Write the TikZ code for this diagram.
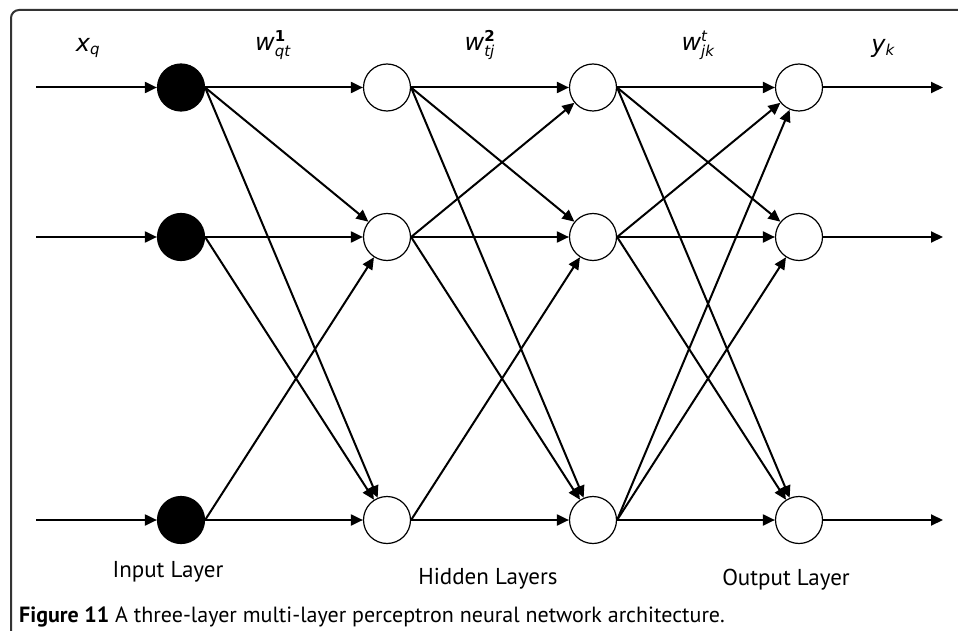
\documentclass[tikz,border=0pt]{standalone}
\usepackage{fontspec}
\usepackage{amsmath}
\setmainfont{PT Sans}
\newfontfamily\lblfamily{DejaVu Sans}
\usetikzlibrary{arrows.meta}
\tikzstyle{input} = [circle, minimum size=47pt, inner sep=0pt, draw=black, line width=1.2pt, fill=black]
\tikzstyle{neuron} = [circle, minimum size=47pt, inner sep=0pt, draw=black, line width=1.2pt, fill=white]
\tikzstyle{arrow} = [line width=2pt, -{Triangle[length=12pt,width=11pt]}]
\tikzstyle{weight} = [font=\fontsize{24}{28}\selectfont\lblfamily\itshape]
\tikzstyle{layer} = [anchor=base, font=\fontsize{23}{27}\selectfont]
\newcommand{\smalltxt}[1]{\mbox{\fontsize{15}{15}\selectfont #1}}

\begin{document}
\begin{tikzpicture}[x=1pt, y=-1pt, node distance=206pt]
\useasboundingbox (0,0) rectangle (958,631);
\draw [line width=2pt, rounded corners=8pt, black!80] (958,10) -- (11,10) -- (11,631);

% input layer
\node (in1) [input] at (181,87.5) {};
\node (in2) [input] at (181,237) {};
\node (in3) [input] at (181,520) {};
% hidden layers
\node (ha1) [neuron, right of=in1] {};
\node (ha2) [neuron, right of=in2] {};
\node (ha3) [neuron, right of=in3] {};
\node (hb1) [neuron, right of=ha1] {};
\node (hb2) [neuron, right of=ha2] {};
\node (hb3) [neuron, right of=ha3] {};
% output layer
\node (out1) [neuron, right of=hb1] {};
\node (out2) [neuron, right of=hb2] {};
\node (out3) [neuron, right of=hb3] {};

\coordinate (x1) at (36,87.5);
\coordinate (x2) at (36,237);
\coordinate (x3) at (36,520);
\coordinate (y1) at (943,87.5);
\coordinate (y2) at (943,237);
\coordinate (y3) at (943,520);

\draw [arrow] (x1) -- (in1);
\draw [arrow] (x2) -- (in2);
\draw [arrow] (x3) -- (in3);

\draw [arrow] (in1) -- (ha1);
\draw [arrow] (in1.east) -- (ha2);
\draw [arrow] (in1.east) -- (ha3);
\draw [arrow] (in2) -- (ha2);
\draw [arrow] (in2.east) -- (ha3);
\draw [arrow] (in3.east) -- (ha2);
\draw [arrow] (in3) -- (ha3);

\draw [arrow] (ha1) -- (hb1);
\draw [arrow] (ha1.east) -- (hb2);
\draw [arrow] (ha1.east) -- (hb3);
\draw [arrow] (ha2.east) -- (hb1);
\draw [arrow] (ha2) -- (hb2);
\draw [arrow] (ha2.east) -- (hb3);
\draw [arrow] (ha3.east) -- (hb2);
\draw [arrow] (ha3) -- (hb3);

\draw [arrow] (hb1) -- (out1);
\draw [arrow] (hb1.east) -- (out2);
\draw [arrow] (hb1.east) -- (out3);
\draw [arrow] (hb2.east) -- (out1);
\draw [arrow] (hb2) -- (out2);
\draw [arrow] (hb2.east) -- (out3);
\draw [arrow] (hb3.east) -- (out1);
\draw [arrow] (hb3.east) -- (out2);
\draw [arrow] (hb3) -- (out3);

\draw [arrow] (out1) -- (y1);
\draw [arrow] (out2) -- (y2);
\draw [arrow] (out3) -- (y3);

% weights
\node (xq) [weight] at (88,48) {x$_{\smalltxt{q}}$};
\node (wqt) [weight] at (273,45) {w$^{\smalltxt{\upshape\bfseries 1}}_{\smalltxt{qt}}$};
\node (wtj) [weight] at (480,45) {w$^{\smalltxt{\upshape\bfseries 2}}_{\smalltxt{tj}}$};
\node (wjk) [weight] at (698,45) {w$^{\smalltxt{t}}_{\smalltxt{jk}}$};
\node (yk) [weight] at (883,48) {y$_{\smalltxt{k}}$};

% layer names
\node (inname) [layer] at (168,577) {Input Layer};
\node (hidname) [layer] at (488,584) {Hidden Layers};
\node (outname) [layer] at (786,585) {Output Layer};
\node (caption) [anchor=base west, inner sep=0pt, font=\fontsize{22}{26}\selectfont] at (19,622) {\textbf{Figure 11} A three-layer multi-layer perceptron neural network architecture.};
\end{tikzpicture}
\end{document}
